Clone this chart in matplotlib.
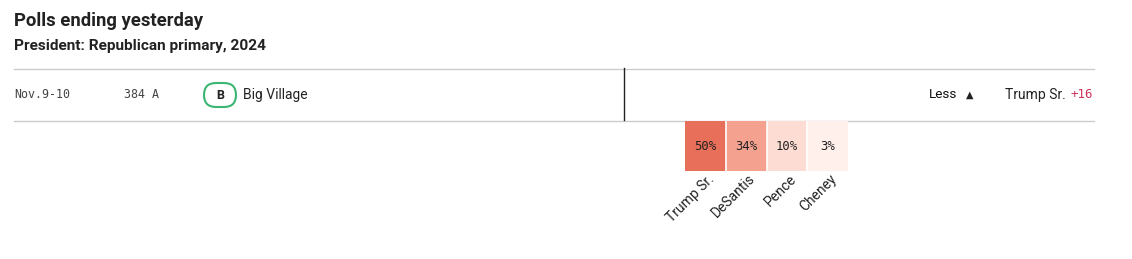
import numpy as np
import matplotlib
matplotlib.use("Agg")
import matplotlib.pyplot as plt
from matplotlib.colors import LinearSegmentedColormap, Normalize
from matplotlib.patches import FancyBboxPatch

# data
title = "Polls ending yesterday"
subtitle = "President: Republican primary, 2024"
poll_dates = "Nov.9-10"
sample = "384 A"
grade = "B"
pollster = "Big Village"
candidates = ["Trump Sr.", "DeSantis", "Pence", "Cheney"]
values = [50, 34, 10, 3]
leader = "Trump Sr."
margin = "+16"

W, H = 1132, 259
fig = plt.figure(figsize=(W / 100, H / 100), dpi=100)

# overlay axes in pixel coords for text and rules
ov = fig.add_axes([0, 0, 1, 1])
ov.set_xlim(0, W)
ov.set_ylim(H, 0)
ov.axis("off")

sans = ["Roboto", "DejaVu Sans"]
mono = ["DejaVu Sans Mono"]
ink = "#222222"

ov.text(14, 21, title, fontsize=13.3, fontweight="bold", family=sans, color=ink, va="center")
ov.text(14, 46, subtitle, fontsize=11.1, fontweight="bold", family=sans, color=ink, va="center")

ov.plot([14, 1094], [68.5, 68.5], color="#cccccc", lw=1)
ov.plot([14, 1094], [120.5, 120.5], color="#cccccc", lw=1)
ov.plot([623.5, 623.5], [68, 120], color="#222222", lw=1)

ov.text(14, 95, poll_dates, fontsize=8.4, family=mono, color="#444444", va="center")
ov.text(124, 95, sample, fontsize=8.4, family=mono, color="#444444", va="center")

badge = FancyBboxPatch((204, 83), 32, 24, boxstyle="round,pad=0,rounding_size=12",
                       fc="white", ec="#3bb573", lw=1.5)
ov.add_patch(badge)
ov.text(220, 95.5, grade, fontsize=9, fontweight="bold", family=sans, color=ink,
        ha="center", va="center")
ov.text(243, 95, pollster, fontsize=10, family=sans, color=ink, va="center")

ov.text(957, 95, "Less", fontsize=9.7, family=sans, color="#111111",
        ha="right", va="center")
ov.text(969.5, 95, "\u25b2", fontsize=7, family=["DejaVu Sans"], color=ink, ha="center", va="center")
ov.text(1005, 95, leader, fontsize=10, family=sans, color=ink, va="center")
ov.text(1093, 95, margin, fontsize=9, family=mono, color="#d1305a", ha="right", va="center")

# heatmap of poll results
cmap = LinearSegmentedColormap.from_list(
    "poll", [(0, "#fff6f3"), (0.06, "#fff0eb"), (0.2, "#fddcd4"), (0.68, "#f4a190"), (1, "#e8705a")])
norm = Normalize(0, 50)

x0, x1, y0, y1 = 685, 848, 121, 171
hm = fig.add_axes([x0 / W, 1 - y1 / H, (x1 - x0) / W, (y1 - y0) / H])
n = len(values)
hm.pcolormesh(np.arange(n + 1), [0, 1], np.array(values)[None, :], cmap=cmap, norm=norm,
              linewidth=0)
for i in range(1, n):
    hm.axvline(i, color="white", lw=1.2)
hm.set_xlim(0, n)
hm.set_ylim(0, 1)
for i, v in enumerate(values):
    hm.text(i + 0.5, 0.5, f"{v}%", fontsize=8.8, family=mono, color=ink, ha="center", va="center")
hm.set_xticks(np.arange(n) + 0.55)
hm.set_xticklabels(candidates, rotation=45, ha="right", rotation_mode="anchor",
                   fontsize=10, family=sans, color=ink)
hm.tick_params(axis="x", length=0, pad=0.5)
hm.set_yticks([])
for s in hm.spines.values():
    s.set_visible(False)

fig.savefig("out.png", dpi=100)
